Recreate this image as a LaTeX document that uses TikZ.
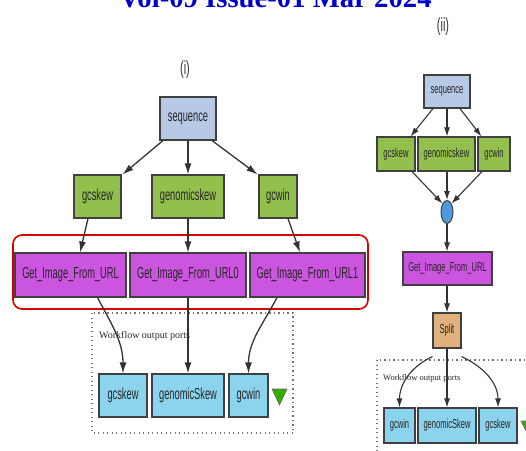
\documentclass[tikz,border=0pt]{standalone}
\usepackage{fontspec}
\setmainfont{Liberation Serif}
\newfontfamily\nf[FakeStretch=0.58]{Liberation Sans}
\usetikzlibrary{arrows.meta,shapes.geometric}
\definecolor{seqc}{HTML}{B7C9E5}
\definecolor{grn}{HTML}{93C04C}
\definecolor{pur}{HTML}{CC55E0}
\definecolor{outc}{HTML}{8CD3EE}
\definecolor{splc}{HTML}{E2B07C}
\definecolor{ellc}{HTML}{4D9BDB}
\definecolor{hdr}{HTML}{0000CC}
\tikzset{
  box/.style={draw=black!75, line width=1.1pt, rectangle, inner sep=0pt, minimum height=43pt, font=\nf\fontsize{16}{17}\selectfont, text=black!85},
  rbox/.style={box, minimum height=34pt, font=\nf\fontsize{13}{14}\selectfont},
  arr/.style={draw=black!80, line width=1.3pt, -{Latex[length=11pt,width=7pt]}},
  rarr/.style={draw=black!80, line width=1.1pt, -{Latex[length=9pt,width=6pt]}},
  dotbox/.style={draw=black!55, line width=1.3pt, dash pattern=on 1.2pt off 3.3pt},
  wlabel/.style={font=\fontsize{10}{11}\selectfont, text=black!85, inner sep=0pt, anchor=west},
  tri/.style={fill=green!60!black!80!yellow, draw=black!60, line width=0.6pt}
}
\begin{document}
\begin{tikzpicture}[x=1pt,y=-1pt]
\useasboundingbox (0,0) rectangle (526,450);
\clip (0,0) rectangle (526,450);
% header
\node[anchor=base, text=hdr, font=\fontsize{28.7}{30}\selectfont\bfseries, inner sep=0pt] (hdr) at (275.5,7) {Vol-09 Issue-01 Mar 2024};
\node[font=\nf\fontsize{19}{20}\selectfont, text=black!80] (lab1) at (185,70) {(i)};
\node[font=\nf\fontsize{19}{20}\selectfont, text=black!80] (lab2) at (443,27) {(ii)};
% ---------- left diagram
\draw[red!85!black, line width=1.6pt, rounded corners=9pt] (13,235) rectangle (368,309);
\draw[dotbox] (92,313) rectangle (293,433);
\node[wlabel] (wl1) at (99,336) {Workflow output ports};
\node[box, fill=seqc, minimum width=56pt] (seq) at (188,118.5) {sequence};
\node[box, fill=grn, minimum width=47pt] (g1) at (97.5,196.5) {gcskew};
\node[box, fill=grn, minimum width=72pt] (g2) at (188,196.5) {genomicskew};
\node[box, fill=grn, minimum width=38pt] (g3) at (278,196.5) {gcwin};
\node[box, fill=pur, minimum width=111pt, minimum height=44pt] (u1) at (70.5,275) {Get\_Image\_From\_URL};
\node[box, fill=pur, minimum width=116pt, minimum height=44pt] (u2) at (188,275) {Get\_Image\_From\_URL0};
\node[box, fill=pur, minimum width=115pt, minimum height=44pt] (u3) at (307.5,275) {Get\_Image\_From\_URL1};
\node[box, fill=outc, minimum width=48pt] (o1) at (123,395.5) {gcskew};
\node[box, fill=outc, minimum width=72pt] (o2) at (188,395.5) {genomicSkew};
\node[box, fill=outc, minimum width=39pt] (o3) at (248.5,395.5) {gcwin};
\draw[tri] (272,389) -- (287,389) -- (279.5,405) -- cycle;
\draw[arr] ([xshift=-25pt]seq.south) -- ([xshift=1pt]g1.north east);
\draw[arr] (seq.south) -- (g2.north);
\draw[arr] ([xshift=24pt]seq.south) -- ([xshift=-1pt]g3.north west);
\draw[arr] ([xshift=-9.5pt]g1.south) -- ([xshift=9.5pt]u1.north);
\draw[arr] (g2.south) -- (u2.north);
\draw[arr] ([xshift=10pt]g3.south) -- ([xshift=-7.5pt]u3.north);
\draw[arr] ([xshift=27pt]u1.south) to[out=-62,in=90] (o1.north);
\draw[arr] (u2.south) -- (o2.north);
\draw[arr] ([xshift=-30.5pt]u3.south) to[out=-118,in=90] (o3.north);
% ---------- right diagram
\draw[dotbox] (377,360) rectangle (540,460);
\node[wlabel, font=\fontsize{8.5}{10}\selectfont] (wl2) at (383,378) {Workflow output ports};
\node[rbox, fill=seqc, minimum width=46pt, minimum height=33pt] (rs) at (447,91.5) {sequence};
\node[rbox, fill=grn, minimum width=38pt] (rg1) at (396,154) {gcskew};
\node[rbox, fill=grn, minimum width=57pt] (rg2) at (446.5,154) {genomicskew};
\node[rbox, fill=grn, minimum width=32pt] (rg3) at (494,154) {gcwin};
\node[ellipse, draw=black!75, line width=1pt, fill=ellc, minimum width=12pt, minimum height=23pt, inner sep=0pt] (el) at (447,212) {};
\node[rbox, fill=pur, minimum width=89pt, minimum height=33pt] (ru) at (447.5,268.5) {Get\_Image\_From\_URL};
\node[rbox, fill=splc, minimum width=28pt, minimum height=35pt] (sp) at (447,330.5) {Split};
\node[rbox, fill=outc, minimum width=31pt, minimum height=35pt] (ro1) at (399.5,425.5) {gcwin};
\node[rbox, fill=outc, minimum width=58pt, minimum height=35pt] (ro2) at (447,425.5) {genomicSkew};
\node[rbox, fill=outc, minimum width=38pt, minimum height=35pt] (ro3) at (498,425.5) {gcskew};
\draw[tri] (521,421) -- (537,421) -- (529,437) -- cycle;
\draw[rarr] ([xshift=-14pt]rs.south) -- ([xshift=-5pt]rg1.north east);
\draw[rarr] (rs.south) -- (rs.south |- rg2.north);
\draw[rarr] ([xshift=13pt]rs.south) -- ([xshift=4pt]rg3.north west);
\draw[rarr] ([xshift=16pt]rg1.south) -- (el.north west);
\draw[rarr] (rg2.south -| el.north) -- (el.north);
\draw[rarr] ([xshift=-12pt]rg3.south) -- (el.north east);
\draw[rarr] (el.south) -- (el.south |- ru.north);
\draw[rarr] (sp.north |- ru.south) -- (sp.north);
\draw[rarr] ([yshift=-8pt]sp.south west) to[out=205,in=90] (ro1.north);
\draw[rarr] (sp.south) -- (ro2.north);
\draw[rarr] ([yshift=-8pt]sp.south east) to[out=-25,in=90] (ro3.north);
\end{tikzpicture}
\end{document}
